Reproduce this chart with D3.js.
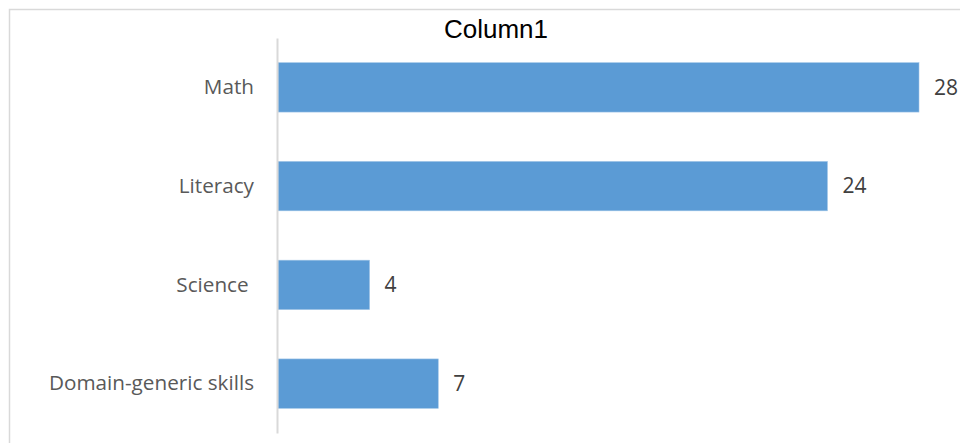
<!DOCTYPE html>
<html>
<head>
<meta charset="utf-8">
<script src="https://cdn.jsdelivr.net/npm/d3@7"></script>
<style>
  body { margin: 0; background: #fff; }
  svg { display: block; }
  svg text { white-space: pre; }
</style>
</head>
<body>
<div id="chart"></div>
<script>
var categories = ["Math", "Literacy", "Science ", "Domain-generic skills"];
var values = [28, 24, 4, 7];
var title = "Column1";

var width = 960, height = 443;
var margin = { top: 38, right: 41, bottom: 10, left: 278 };

var svg = d3.select("#chart")
    .append("svg")
    .attr("width", width)
    .attr("height", height);

// chart area border (cropped at right and bottom)
svg.append("rect")
    .attr("x", 9.5)
    .attr("y", 9.5)
    .attr("width", 1000)
    .attr("height", 1000)
    .attr("fill", "none")
    .attr("stroke", "#d9d9d9")
    .attr("stroke-width", 1.5);

var x = d3.scaleLinear()
    .domain([0, 28])
    .range([margin.left, width - margin.right]);

var y = d3.scaleBand()
    .domain(categories)
    .range([margin.top, height - margin.bottom])
    .paddingInner(0.5)
    .paddingOuter(0.25);

var data = categories.map((c, i) => ({ cat: c, value: values[i] }));

svg.selectAll("rect.bar")
    .data(data)
    .enter().append("rect")
    .attr("class", "bar")
    .attr("x", x(0))
    .attr("y", d => y(d.cat))
    .attr("width", d => x(d.value) - x(0))
    .attr("height", y.bandwidth())
    .attr("fill", "#5b9bd5")
    .attr("stroke", "#9dc3e6")
    .attr("stroke-width", 0.6);

// category axis
var yAxis = g => g
    .attr("transform", `translate(${x(0) - 1},0)`)
    .call(d3.axisLeft(y).tickSize(0).tickPadding(23))
    .call(g => g.select(".domain").attr("stroke", "#d9d9d9").attr("stroke-width", 2))
    .call(g => g.selectAll("text")
        .attr("font-family", "'Open Sans', sans-serif")
        .attr("font-size", 20.7)
        .attr("fill", "#595959"));

svg.append("g").call(yAxis);

// value labels
svg.selectAll("text.val")
    .data(data)
    .enter().append("text")
    .attr("class", "val")
    .attr("x", d => x(d.value) + 15)
    .attr("y", d => y(d.cat) + y.bandwidth() / 2)
    .attr("dy", "0.35em")
    .attr("font-family", "'Open Sans', sans-serif")
    .attr("font-size", 21)
    .attr("fill", "#404040")
    .text(d => d.value);

svg.append("text")
    .attr("x", 496)
    .attr("y", 38)
    .attr("text-anchor", "middle")
    .attr("font-family", "'Liberation Sans', Arial, sans-serif")
    .attr("font-size", 26)
    .attr("fill", "#000")
    .text(title);
</script>
</body>
</html>
